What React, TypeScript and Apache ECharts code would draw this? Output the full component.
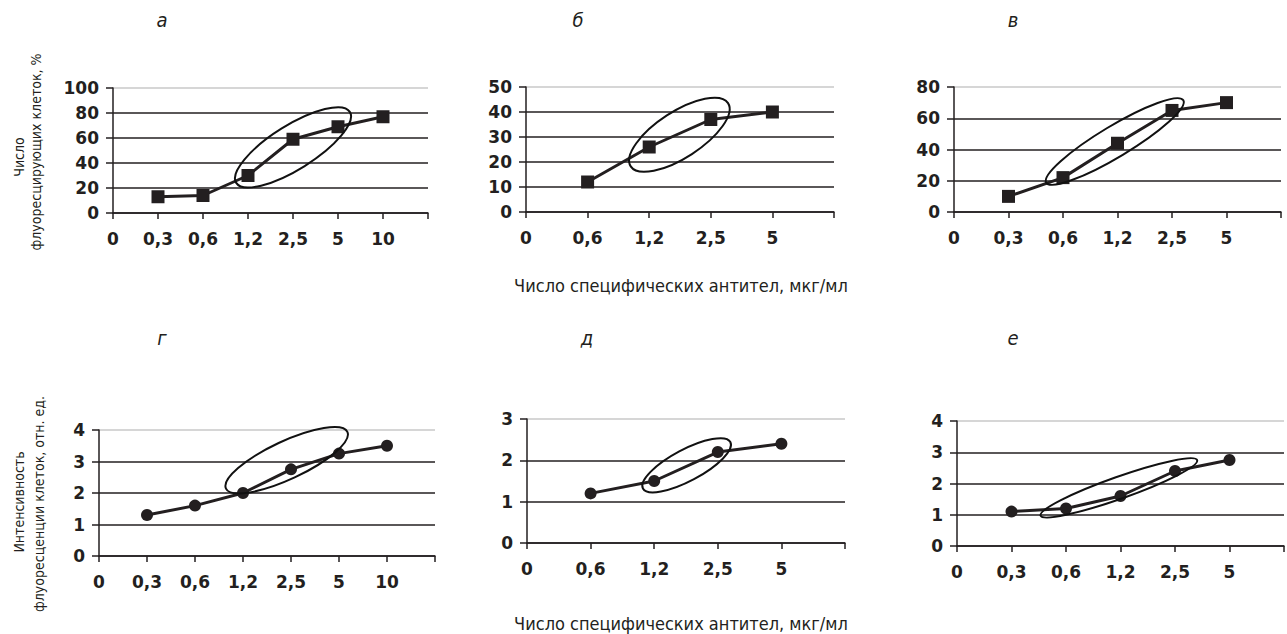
import React, { useEffect, useRef } from "react";
import * as echarts from "echarts";

// ---------- data ----------
const concA = ["0,3", "0,6", "1,2", "2,5", "5", "10"];
const valuesA = [13, 14, 30, 59, 69, 77];
const concB = ["0,6", "1,2", "2,5", "5"];
const valuesB = [12, 26, 37, 40];
const concV = ["0,3", "0,6", "1,2", "2,5", "5"];
const valuesV = [10, 22, 44, 65, 70];
const concG = ["0,3", "0,6", "1,2", "2,5", "5", "10"];
const valuesG = [1.3, 1.6, 2.0, 2.75, 3.25, 3.5];
const concD = ["0,6", "1,2", "2,5", "5"];
const valuesD = [1.2, 1.5, 2.2, 2.4];
const concE = ["0,3", "0,6", "1,2", "2,5", "5"];
const valuesE = [1.1, 1.2, 1.6, 2.4, 2.75];

const panelLetters = ["а", "б", "в", "г", "д", "е"];
const yMaxes = [100, 50, 80, 4, 3, 4];
const yIntervals = [20, 10, 20, 1, 1, 1];

const xTitle = "Число специфических антител, мкг/мл";
const yTitleTop = ["Число", "флуоресцирующих клеток, %"];
const yTitleBottom = ["Интенсивность", "флуоресценции клеток, отн. ед."];

// ---------- layout ----------
const grids = [
  { left: 113, top: 88, width: 315, height: 125 },
  { left: 526, top: 87, width: 308, height: 125 },
  { left: 954, top: 87, width: 327, height: 125 },
  { left: 99, top: 430, width: 336, height: 126 },
  { left: 527, top: 419, width: 318, height: 124 },
  { left: 957, top: 421, width: 336, height: 125 },
];

// ellipse annotations: centre in (category index, value), radii in px, tilt in degrees
const ellipses = [
  { cx: 4.0, cy: 52.5, rx: 67, ry: 22, tilt: 32 },
  { cx: 2.49, cy: 30.9, rx: 58, ry: 23, tilt: 33 },
  { cx: 2.95, cy: 45.1, rx: 80, ry: 15.5, tilt: 31 },
  { cx: 3.91, cy: 3.04, rx: 67, ry: 19, tilt: 25 },
  { cx: 2.51, cy: 1.88, rx: 49.5, ry: 15.7, tilt: 28 },
  { cx: 2.97, cy: 1.86, rx: 83, ry: 11, tilt: 19.5 },
];

const INK = "#231f20";
const NARROW = "'Liberation Sans Narrow', 'DejaVu Sans Condensed', 'Arial Narrow', sans-serif";
const TICKFONT = "'DejaVu Sans', 'Liberation Sans', Arial, sans-serif";

export default function App() {
  const ref = useRef<HTMLDivElement>(null);

  useEffect(() => {
    if (!ref.current) return;
    const chart = echarts.init(ref.current, undefined, { renderer: "svg" });

    const concs = [concA, concB, concV, concG, concD, concE];
    const vals = [valuesA, valuesB, valuesV, valuesG, valuesD, valuesE];

    const xAxis = concs.map((c, i) => ({
      type: "category",
      gridIndex: i,
      boundaryGap: false,
      data: ["0", ...c, ""],
      axisLine: { show: true, lineStyle: { color: INK, width: 1.5 } },
      axisTick: { show: true, interval: 0, length: 6, lineStyle: { color: INK, width: 1.5 } },
      axisLabel: {
        interval: 0,
        margin: 17,
        fontSize: 17,
        fontWeight: "bold",
        fontFamily: TICKFONT,
        color: INK,
      },
      splitLine: { show: false },
    }));

    const yAxis = yMaxes.map((m, i) => {
      const n = Math.round(m / yIntervals[i]) + 1;
      const colors: string[] = [];
      for (let k = 0; k < n; k++) colors.push(k === n - 1 ? "#c8c8c8" : INK);
      return {
        type: "value",
        gridIndex: i,
        min: 0,
        max: m,
        interval: yIntervals[i],
        axisLine: { show: true, lineStyle: { color: INK, width: 1.5 } },
        axisTick: { show: true, length: 7, lineStyle: { color: INK, width: 1.5 } },
        axisLabel: {
          margin: 14,
          fontSize: 17,
          fontWeight: "bold",
          fontFamily: TICKFONT,
          color: INK,
        },
        splitLine: { show: true, lineStyle: { color: colors, width: 1.5 } },
      };
    });

    const lineSeries = vals.map((v, i) => ({
      type: "line",
      xAxisIndex: i,
      yAxisIndex: i,
      data: [null, ...v],
      symbol: i < 3 ? "rect" : "circle",
      symbolSize: i < 3 ? 13 : 12,
      itemStyle: { color: INK },
      lineStyle: { color: INK, width: 3 },
      z: 3,
    }));

    const ellipseSeries = ellipses.map((e, i) => ({
      type: "custom",
      xAxisIndex: i,
      yAxisIndex: i,
      silent: true,
      clip: false,
      z: 5,
      data: [[0, e.cy]],
      renderItem: (params: any, api: any) => {
        const p0 = api.coord([0, e.cy]);
        const p1 = api.coord([1, e.cy]);
        const x = p0[0] + (p1[0] - p0[0]) * e.cx;
        return {
          type: "ellipse",
          x,
          y: p0[1],
          rotation: (e.tilt * Math.PI) / 180,
          shape: { cx: 0, cy: 0, rx: e.rx, ry: e.ry },
          style: { fill: "none", stroke: "#111", lineWidth: 2 },
        };
      },
    }));

    const letterPos = [
      [162, 30], [578, 30], [1013, 30],
      [162, 348], [587, 348], [1013, 348],
    ];

    const graphic: any[] = [];
    panelLetters.forEach((l, i) => {
      graphic.push({
        type: "text",
        x: letterPos[i][0],
        y: letterPos[i][1],
        style: {
          text: l,
          font: `italic 20px ${NARROW}`,
          fill: INK,
          textAlign: "center",
          textVerticalAlign: "bottom",
        },
      });
    });
    [285, 623].forEach((y) => {
      graphic.push({
        type: "text",
        x: 681,
        y,
        style: {
          text: xTitle,
          font: `18px ${NARROW}`,
          fill: INK,
          textAlign: "center",
          textVerticalAlign: "middle",
        },
      });
    });
    const yTitles = [
      { lines: yTitleTop, xs: [19, 36], ys: [157, 152] },
      { lines: yTitleBottom, xs: [19, 39], ys: [502, 504] },
    ];
    yTitles.forEach((t) => {
      t.lines.forEach((line, k) => {
        graphic.push({
          type: "text",
          x: t.xs[k],
          y: t.ys[k],
          rotation: Math.PI / 2,
          style: {
            text: line,
            font: `14px ${NARROW}`,
            fill: INK,
            textAlign: "center",
            textVerticalAlign: "middle",
          },
        });
      });
    });

    chart.setOption({
      animation: false,
      backgroundColor: "#ffffff",
      grid: grids.map((g) => ({ ...g, containLabel: false })),
      xAxis,
      yAxis,
      series: [...lineSeries, ...ellipseSeries],
      graphic,
    } as any);

    return () => chart.dispose();
  }, []);

  return (
    <div
      ref={ref}
      style={{ position: "fixed", left: 0, top: 0, width: 1287, height: 634, background: "#fff" }}
    />
  );
}
